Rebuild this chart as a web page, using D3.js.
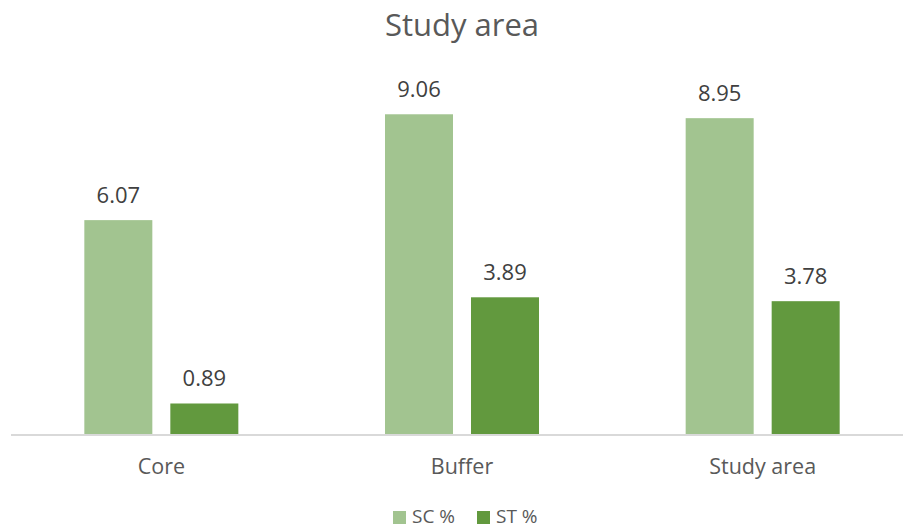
<!DOCTYPE html>
<html>
<head>
<meta charset="utf-8">
<script src="https://cdn.jsdelivr.net/npm/d3@7"></script>
<style>
  html, body { margin: 0; padding: 0; background: #fff; }
  svg { display: block; font-family: "Open Sans", "Noto Sans", sans-serif; }
</style>
</head>
<body>
<svg id="chart" width="903" height="530"></svg>
<script>
// Share of SC and ST population by zone
const categories = ["Core", "Buffer", "Study area"];
const seriesNames = ["SC %", "ST %"];
const scValues = [6.07, 9.06, 8.95];
const stValues = [0.89, 3.89, 3.78];
const seriesColors = ["#A2C490", "#62993E"];

const data = categories.map((c, i) => ({ category: c, values: [scValues[i], stValues[i]] }));

const svg = d3.select("#chart");
const baseY = 435;

const x0 = d3.scaleBand()
  .domain(categories)
  .range([11, 913])
  .paddingInner(0.4878)
  .paddingOuter(0.2439);

const x1 = d3.scaleBand()
  .domain(seriesNames)
  .range([0, x0.bandwidth()])
  .paddingInner(0.2093)
  .paddingOuter(0);

const y = d3.scaleLinear().domain([0, 10]).range([baseY, 81]);

// Title
svg.append("text")
  .attr("x", 462)
  .attr("y", 36)
  .attr("text-anchor", "middle")
  .attr("fill", "#595959")
  .style("font-size", "31px")
  .text("Study area");

// Bars
const groups = svg.append("g").selectAll("g")
  .data(data)
  .join("g")
  .attr("transform", d => `translate(${x0(d.category)},0)`);

groups.selectAll("rect")
  .data(d => d.values.map((v, i) => ({ name: seriesNames[i], value: v, idx: i })))
  .join("rect")
  .attr("x", d => x1(d.name))
  .attr("y", d => y(d.value))
  .attr("width", x1.bandwidth())
  .attr("height", d => baseY - y(d.value))
  .attr("fill", d => seriesColors[d.idx]);

groups.selectAll("text.value")
  .data(d => d.values.map((v, i) => ({ name: seriesNames[i], value: v })))
  .join("text")
  .attr("class", "value")
  .attr("x", d => x1(d.name) + x1.bandwidth() / 2)
  .attr("y", d => y(d.value) - 17)
  .attr("text-anchor", "middle")
  .attr("fill", "#404040")
  .style("font-size", "22px")
  .text(d => d.value.toFixed(2));

// Category axis
const axis = svg.append("g")
  .attr("transform", `translate(0,${baseY})`)
  .call(d3.axisBottom(x0).tickSize(0));
axis.select(".domain").attr("stroke", "#D9D9D9").attr("stroke-width", 2).attr("d", "M11,0H913");
axis.selectAll("text")
  .attr("y", 39)
  .attr("dy", 0)
  .attr("fill", "#595959")
  .style("font-size", "21.5px")
  .style("font-family", "\"Open Sans\", \"Noto Sans\", sans-serif");

// Legend
const legend = svg.append("g").attr("transform", "translate(0,523)");
const legendX = [393, 477];
seriesNames.forEach((name, i) => {
  const g = legend.append("g").attr("transform", `translate(${legendX[i]},0)`);
  g.append("rect").attr("x", 0).attr("y", -12).attr("width", 13).attr("height", 13).attr("fill", seriesColors[i]);
  g.append("text").attr("x", 19).attr("y", 0).attr("fill", "#595959").style("font-size", "19px").text(name);
});
</script>
</body>
</html>
